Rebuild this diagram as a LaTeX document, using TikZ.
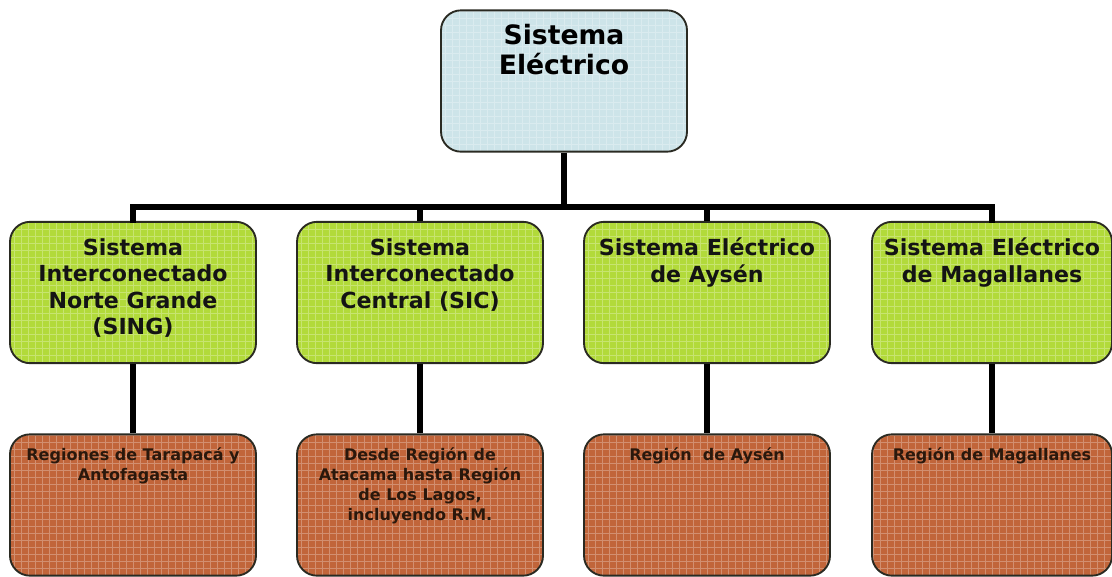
\documentclass[tikz,border=0pt]{standalone}
\usepackage{fontspec}
\setmainfont{DejaVu Sans}
\definecolor{topfill}{HTML}{CDE4E9}
\definecolor{midfill}{HTML}{B2DA3A}
\definecolor{lowfill}{HTML}{C1653A}
\definecolor{lowtext}{HTML}{2A180C}
\definecolor{edge}{HTML}{2A2A22}
\begin{document}
\begin{tikzpicture}[x=0.75pt,y=-0.75pt,
  box/.style={draw=edge, line width=1.4pt, rounded corners=15pt, inner sep=0pt,
    minimum width=184.5pt, minimum height=106pt,
    path picture={\draw[white, opacity=0.28, line width=0.35pt]
      (path picture bounding box.south west) grid[step=5.25pt]
      (path picture bounding box.north east);}},
  topbox/.style={box, fill=topfill},
  midbox/.style={box, fill=midfill},
  lowbox/.style={box, fill=lowfill},
  toptext/.style={anchor=north, inner sep=0pt, align=center,
    font=\bfseries\fontsize{20}{22.5}\selectfont, text=black},
  midtext/.style={anchor=north, inner sep=0pt, align=center,
    font=\bfseries\fontsize{16.6}{19.9}\selectfont, text=black!92},
  lowtext/.style={anchor=north, inner sep=0pt, align=center,
    font=\bfseries\fontsize{12}{15.2}\selectfont, text=lowtext},
  conn/.style={draw=black, line width=3.8pt}
]
\useasboundingbox (0,0) rectangle (1112,576);

% boxes
\node[topbox] (top) at (564,81) {};
\node[midbox] (g1) at (133,292.5) {};
\node[midbox] (g2) at (420,292.5) {};
\node[midbox] (g3) at (707,292.5) {};
\node[midbox, minimum width=180pt] (g4) at (992,292.5) {};
\node[lowbox] (b1) at (133,505) {};
\node[lowbox] (b2) at (420,505) {};
\node[lowbox] (b3) at (707,505) {};
\node[lowbox, minimum width=180pt] (b4) at (992,505) {};

% connectors
\coordinate (bus) at (564,207);
\draw[conn] (top.south) -- (bus);
\draw[conn, line cap=rect] (g1.north) |- (g4.north |- bus) -- (g4.north);
\draw[conn] (g2.north |- bus) -- (g2.north);
\draw[conn] (g3.north |- bus) -- (g3.north);
\draw[conn] (g1.south) -- (b1.north);
\draw[conn] (g2.south) -- (b2.north);
\draw[conn] (g3.south) -- (b3.north);
\draw[conn] (g4.south) -- (b4.north);

% texts
\node[toptext] (ttop) at (564,24) {Sistema\\Eléctrico};
\node[midtext] (tg1) at (133,238) {Sistema\\Interconectado\\Norte Grande\\(SING)};
\node[midtext] (tg2) at (420,238) {Sistema\\Interconectado\\Central (SIC)};
\node[midtext] (tg3) at (707,238) {Sistema Eléctrico\\de Aysén};
\node[midtext] (tg4) at (992,238) {Sistema Eléctrico\\de Magallanes};
\node[lowtext] (tb1) at (133,447) {Regiones de Tarapacá y\\Antofagasta};
\node[lowtext] (tb2) at (420,447) {Desde Región de\\Atacama hasta Región\\de Los Lagos,\\incluyendo R.M.};
\node[lowtext] (tb3) at (707,447) {Región\ \ de Aysén};
\node[lowtext] (tb4) at (992,447) {Región de Magallanes};
\end{tikzpicture}
\end{document}
